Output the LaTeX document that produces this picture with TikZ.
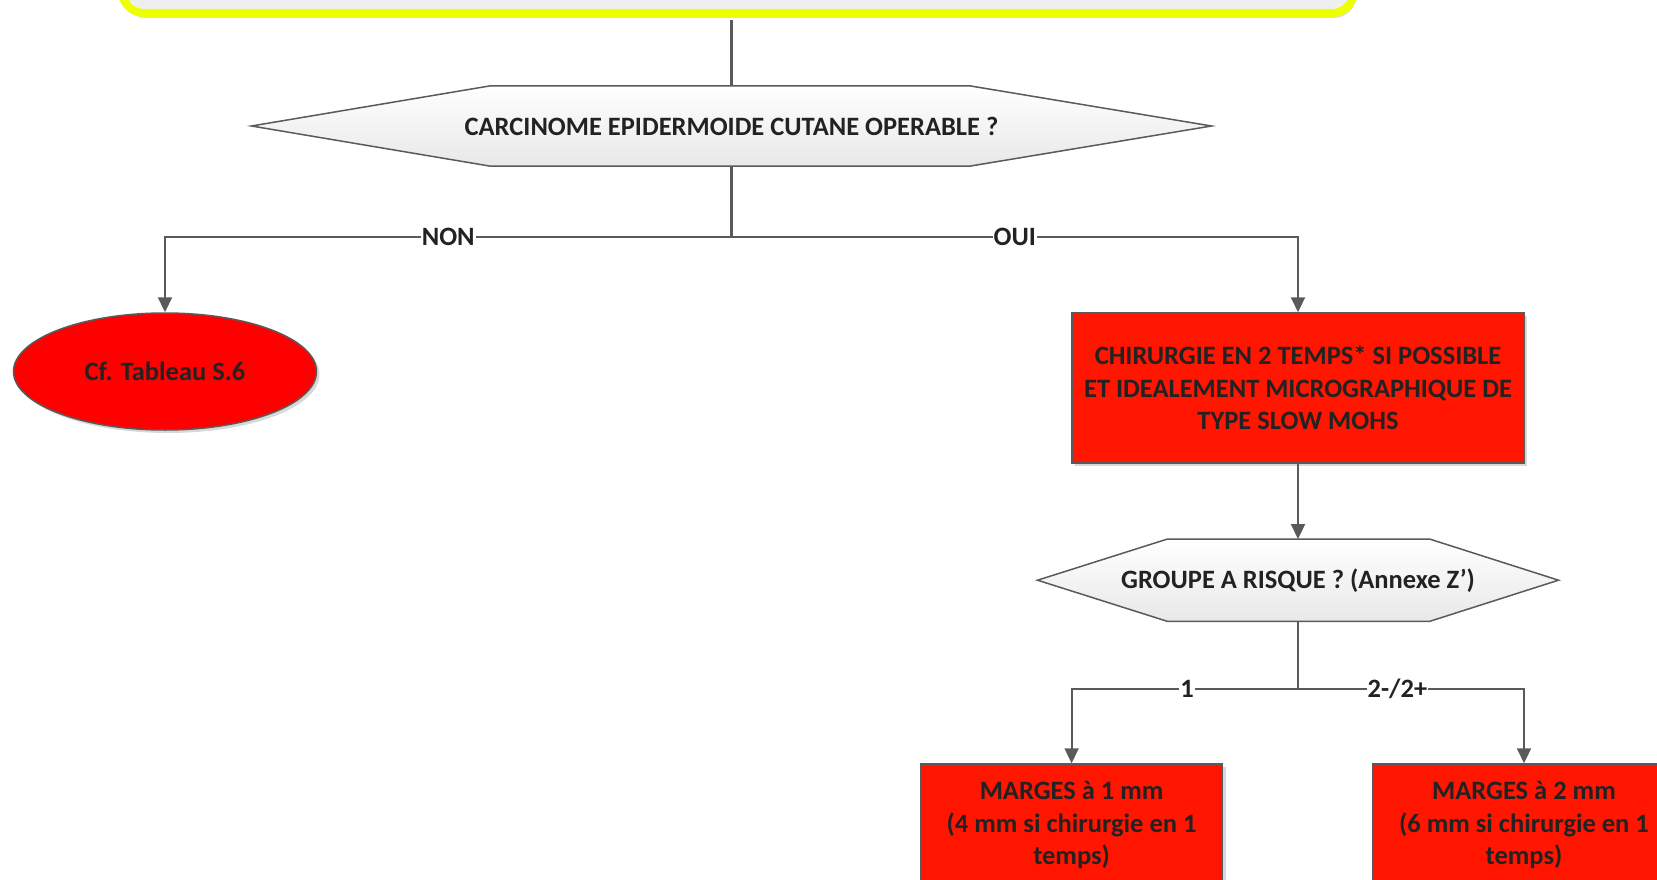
\documentclass[tikz,border=0pt]{standalone}
\usepackage{fontspec}
\setmainfont{Carlito}
\usetikzlibrary{arrows.meta,shapes.geometric,shadows}
\definecolor{lineg}{HTML}{5A5A5A}
\definecolor{txt}{HTML}{222222}
\definecolor{redA}{HTML}{FF1500}
\definecolor{redB}{HTML}{FF0000}
\definecolor{yel}{HTML}{EEFF00}
\definecolor{boxg}{HTML}{EEF0EF}
\tikzset{
  every node/.style={font=\fontsize{26.5}{32.5}\selectfont\bfseries, text=txt},
  conn/.style={draw=lineg, line width=2.2pt},
  arr/.style={conn, -{Triangle[length=15pt,width=14pt]}},
  lbl/.style={fill=white, inner sep=1pt},
  shad/.style={drop shadow={shadow xshift=3pt, shadow yshift=-3pt, fill=black!30, opacity=0.5}},
  redbox/.style={rectangle, draw=lineg, line width=1.5pt, fill=redA, align=center, inner sep=0pt, shad},
  redell/.style={ellipse, draw=lineg, line width=1.5pt, fill=redB, inner sep=0pt, shad},
  hexframe/.style={rectangle, inner sep=0pt, outer sep=0pt},
  hexfill/.style={draw=lineg, line width=1.5pt, top color=white, bottom color=black!9},
  topbox/.style={rectangle, rounded corners=22pt, draw=yel, line width=8pt, fill=boxg,
    drop shadow={shadow xshift=2pt, shadow yshift=-5pt, fill=black!25, opacity=0.5}}
}
\begin{document}
\begin{tikzpicture}[x=1pt,y=1pt]
\useasboundingbox (0,0) rectangle (1657,-880);
\clip (0,0) rectangle (1657,-880);

% top box (cut by the top edge)
\node[topbox, minimum width=1232pt, minimum height=90pt] (top) at (738,32) {};

% first decision
\node[hexframe, minimum width=960pt, minimum height=80.4pt] (d1) at (731.5,-126) {};
\path[hexfill] (d1.west) -- ([xshift=239pt]d1.north west) -- ([xshift=-242pt]d1.north east)
  -- (d1.east) -- ([xshift=-242pt]d1.south east) -- ([xshift=239pt]d1.south west) -- cycle;
\node (d1t) at (d1.center) {CARCINOME EPIDERMOIDE CUTANE OPERABLE ?};

\node[redell, minimum width=303pt, minimum height=117pt] (ell) at (165,-371.5) {Cf. Tableau S.6};

\node[redbox, minimum width=452pt, minimum height=150pt] (r1) at (1298,-388)
  {CHIRURGIE EN 2 TEMPS* SI POSSIBLE\\ET IDEALEMENT MICROGRAPHIQUE DE\\TYPE SLOW MOHS};

% second decision
\node[hexframe, minimum width=521pt, minimum height=82.4pt] (d2) at (1298,-580.2) {};
\path[hexfill] (d2.west) -- ([xshift=130pt]d2.north west) -- ([xshift=-129pt]d2.north east)
  -- (d2.east) -- ([xshift=-129pt]d2.south east) -- ([xshift=130pt]d2.south west) -- cycle;
\node (d2t) at (d2.center) {GROUPE A RISQUE ? (Annexe Z’)};

\node[redbox, minimum width=302pt, minimum height=122pt] (r2) at (1071.6,-825)
  {MARGES à 1 mm\\(4 mm si chirurgie en 1\\temps)};
\node[redbox, minimum width=302pt, minimum height=122pt] (r3) at (1524,-825)
  {MARGES à 2 mm\\(6 mm si chirurgie en 1\\temps)};

% connectors
\coordinate (j1) at (731.5,-236.7);
\coordinate (j2) at (1298,-689);
\coordinate (t1) at (731.5,-20);
\draw[conn] (t1) -- (d1.north);
\draw[conn] (d1.south) -- (j1);
\draw[arr] (j1) -| node[lbl, pos=0.25] {NON} (ell.north);
\draw[arr] (j1) -| node[lbl, pos=0.25] {OUI} (r1.north);
\draw[arr] (r1.south) -- (d2.north);
\draw[conn] (d2.south) -- (j2);
\draw[arr] (j2) -| node[lbl, pos=0.245] {1} (r2.north);
\draw[arr] (j2) -| node[lbl, pos=0.22] {2-/2+} (r3.north);
\end{tikzpicture}
\end{document}
